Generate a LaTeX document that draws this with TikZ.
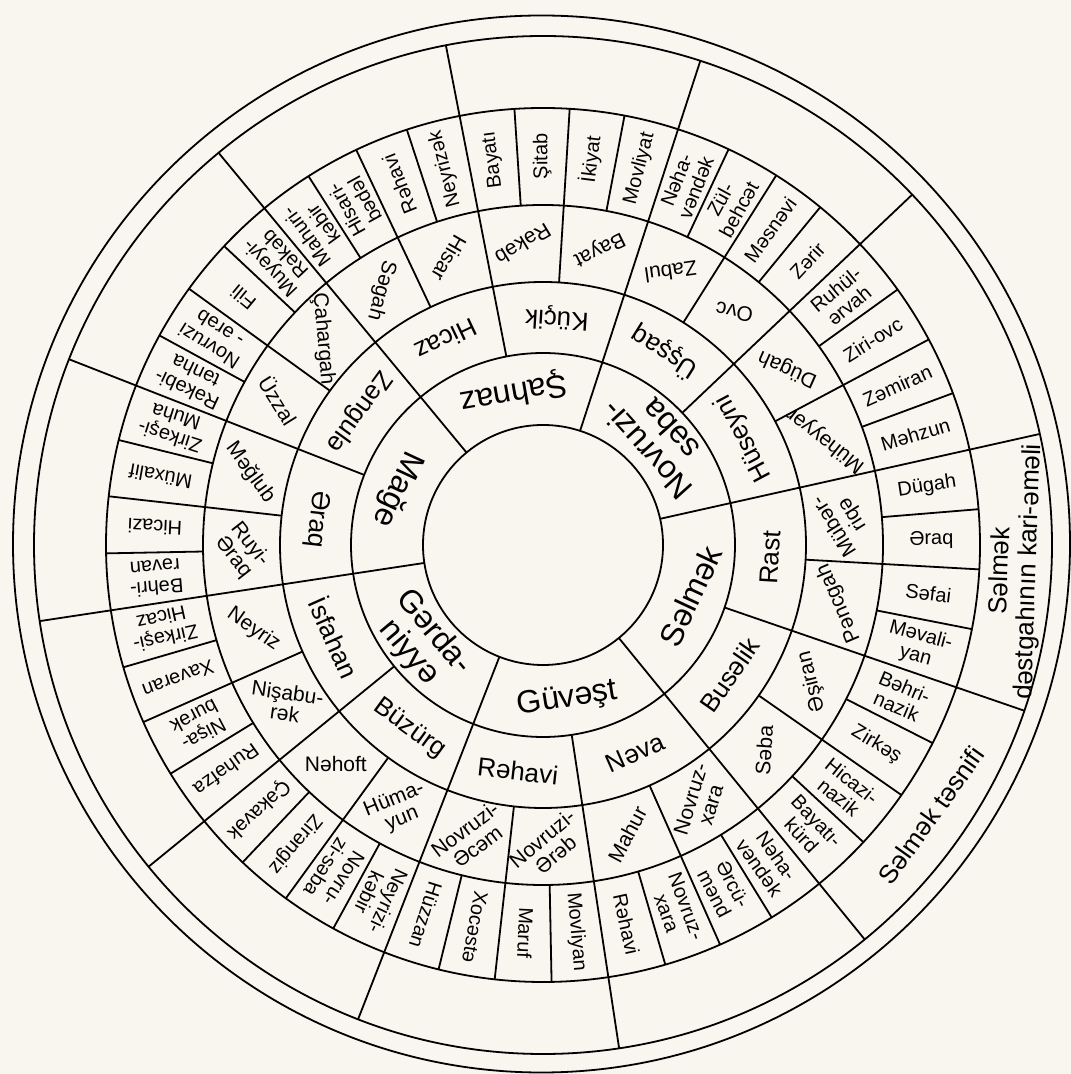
\documentclass[tikz,border=0pt]{standalone}
\usepackage{fontspec}
\setmainfont{Liberation Sans}
\definecolor{bgc}{RGB}{248,246,239}
\begin{document}
\begin{tikzpicture}[x=1pt,y=1pt,
  ln/.style={line width=1.8pt, black},
  ringA/.style={font=\fontsize{32}{32}\selectfont, align=center, inner sep=0pt},
  ringB/.style={font=\fontsize{26}{26}\selectfont, align=center, inner sep=0pt},
  ringC/.style={font=\fontsize{21}{21}\selectfont, align=center, inner sep=0pt},
  ringD/.style={font=\fontsize{20}{21}\selectfont, align=center, inner sep=0pt},
  ringO/.style={font=\fontsize{26}{28}\selectfont, align=center, inner sep=0pt}]
\fill[bgc] (0,0) rectangle (1071,1074);
\useasboundingbox (0,0) rectangle (1071,1074);
\begin{scope}[shift={(543,529)}]
 % circles
 \foreach \r in {120,192,263,340,437,509} \draw[ln] (0,0) circle[radius=\r];
 \draw[ln] (-1.5,1) circle[radius=528.5];
 % half and quarter lines
 \foreach \a/\b in {129.6/101, 101/72, 72/43.5, 43.5/12.6, 12.6/-19, -19/-50.8, -50.8/-81.4, -81.4/-111.3, -111.3/-140.8, -140.8/-171.4, -171.4/-201.4, -201.4/-230.4} {
   \pgfmathsetmacro\h{(\a+\b)/2}
   \pgfmathsetmacro\qa{(3*\a+\b)/4}
   \pgfmathsetmacro\qb{(\a+3*\b)/4}
   \draw[ln] (\h:263) -- (\h:437);
   \draw[ln] (\qa:340) -- (\qa:437);
   \draw[ln] (\qb:340) -- (\qb:437);
 }
 % main lines
 \foreach \t in {129.6,72,12.6,-50.8,-111.3,-171.4} \draw[ln] (\t:120) -- (\t:509);
 \foreach \t in {101,43.5,-19,-81.4,-140.8,-201.4} \draw[ln] (\t:192) -- (\t:509);
 % ring 0
 \foreach \t/\p/\txt [count=\i] in {100.8/190/Şahnaz, 42.3/132/Novruzi-\\səba, -19.1/65/Səlmək, -81.05/9/Güvəşt, -141.35/-50/Gərda-\\niyyə, 159.1/245/Mağe}
   \node[ringA, rotate=\p] (a\i) at (\t:156) {\txt};
 % ring 1
 \foreach \t/\txt [count=\i] in {115.3/Hicaz, 86.5/Küçik, 57.75/Üşşaq, 28.05/Hüseyni, -3.2/Rast, -34.9/Busəlik, -66.1/Nəva, -96.35/Rəhavi, -126.05/Büzürg, -156.1/İsfahan, -186.4/Əraq, -215.9/Zəngulə} {
   \pgfmathsetmacro\rr{\t+90}
   \node[ringB, rotate=\rr] (b\i) at (\t:227.5) {\txt};
 }
 % ring 2
 \foreach \t/\p/\txt [count=\i] in {122.45/-105/Səgah, 108.15/-120/Hisar, 93.75/-149/Rəkəb, 79.25/-154/Bayat, 64.9/-172/Zabul, 50.6/169/Ovc, 35.8/156/Dügah, 20.3/142/Mühəyyər, 4.7/122/Mübər-\\riqə, -11.1/113/Pəncgah, -26.95/104/Əşiran, -42.85/86/Səba, -58.45/73/Novruz-\\xara, -73.75/62/Mahur, -88.9/40/Novruzi-\\Ərəb, -103.8/37/Novruzi-\\Əcəm, -118.7/22/Hüma-\\yun, -133.4/0/Nəhoft, -148.4/-8/Nişabu-\\rək, -163.75/-35/Neyriz, -178.9/-52/Ruyi-\\Əraq, -193.9/-54/Məğlub, -208.65/-58/Üzzal, -223.15/-85/Çahargah}
   \node[ringC, rotate=\p] (c\i) at (\t:301.5) {\txt};
 % ring 3
 \foreach \t/\txt [count=\i] in {126.0/Mahuri-\\kəbir, 118.9/Hisari-\\bədəl, 111.7/Rəhavi, 104.6/Neyrizək, 97.4/Bayatı, 90.1/Şitab, 82.9/İkiyat, 75.6/Movliyat, 68.4/Nəha-\\vəndək, 61.3/Zül-\\behcət, 54.2/Məsnəvi, 47.1/Zərir, 39.6/Ruhül-\\ərvah, 31.9/Ziri-ovc, 24.2/Zəmiran, 16.5/Məhzun, 8.65/Dügah, 0.75/Əraq, -7.15/Səfai, -15.05/Məvali-\\yan, -23.0/Bəhri-\\nazik, -30.9/Zirkəş, -38.9/Hicazi-\\nazik, -46.8/Bayatı-\\kürd, -54.6/Nəha-\\vəndək, -62.3/Ərcü-\\mənd, -69.9/Novruz-\\xara, -77.6/Rəhavi, -85.1/Movliyan, -92.6/Maruf, -100.1/Xocəstə, -107.6/Hüzzan, -115.0/Neyrizi-\\kəbir, -122.4/Novru-\\zi-səba, -129.7/Zirəngiz, -137.1/Çəkavək, -144.6/Ruhəfza, -152.25/Nişa-\\burək, -159.9/Xavəran, -167.6/Zirkəşi-\\Hicaz, -175.15/Bəhri-\\rəvan, -182.65/Hicazi, -190.15/Müxalif, -197.65/Zirkəşi-\\Muha, -205.0/Rəkəbi-\\tənha, -212.25/Novruzi\\- ərəb, -219.5/Fili, -226.8/Muyəyi-\\Rəkəb}
   \node[ringD, rotate=\t] (d\i) at (\t:388.5) {\txt};
 % outer ring
 \node[ringO, rotate=88] (o1) at (-3.2:473) {Səlmək\\dəstgahının kari-əməli};
 \node[ringO, rotate=54.5] (o2) at (-34.9:473) {Səlmək təsnifi};
\end{scope}
\end{tikzpicture}
\end{document}
